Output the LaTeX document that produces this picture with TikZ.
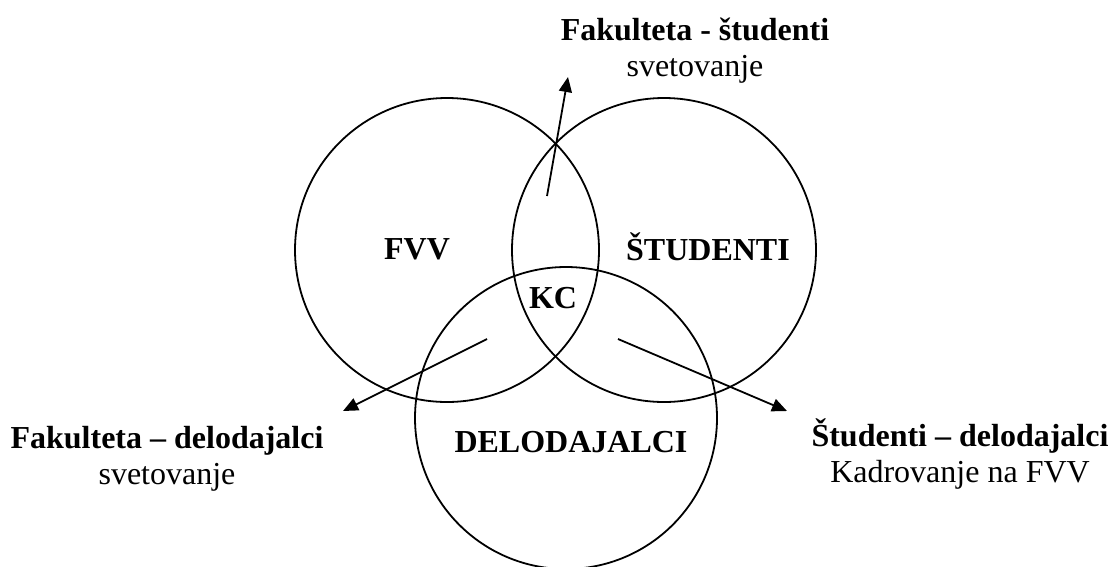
\documentclass[tikz,border=0pt]{standalone}
\usepackage{fontspec}
\setmainfont{Liberation Serif}
\usetikzlibrary{arrows.meta}
\begin{document}
\begin{tikzpicture}[x=1pt,y=-1pt,
  circ/.style={draw=black,line width=1.8pt},
  lbl/.style={font=\fontsize{32}{36}\selectfont\bfseries,anchor=base,inner sep=0pt},
  sub/.style={font=\fontsize{32}{36}\selectfont,anchor=base,inner sep=0pt},
  arr/.style={draw=black,line width=1.8pt,-{Triangle[length=15pt,width=13pt]}}]
\useasboundingbox[fill=white] (0,0) rectangle (1111,566);
\draw[circ] (447,250) circle[radius=152];
\draw[circ] (664,250) circle[radius=152];
\draw[circ] (566,418) circle[radius=151];
\node[lbl] (fvv) at (417,259) {FVV};
\node[lbl] (stu) at (708,260) {ŠTUDENTI};
\node[lbl] (kc) at (553,308) {KC};
\node[lbl] (del) at (571,452) {DELODAJALCI};
\node[lbl] (t1) at (695,40) {Fakulteta - študenti};
\node[sub] (t2) at (695,76) {svetovanje};
\node[lbl] (l1) at (167,448) {Fakulteta – delodajalci};
\node[sub] (l2) at (167,484) {svetovanje};
\node[lbl] (r1) at (960,446) {Študenti – delodajalci};
\node[sub] (r2) at (960,482) {Kadrovanje na FVV};
\coordinate (ta) at (547,196);
\coordinate (tb) at (568,77);
\coordinate (la) at (487,339);
\coordinate (lb) at (343,411);
\coordinate (ra) at (618,339);
\coordinate (rb) at (787,411);
\draw[arr] (ta) -- (tb);
\draw[arr] (la) -- (lb);
\draw[arr] (ra) -- (rb);
\end{tikzpicture}
\end{document}
